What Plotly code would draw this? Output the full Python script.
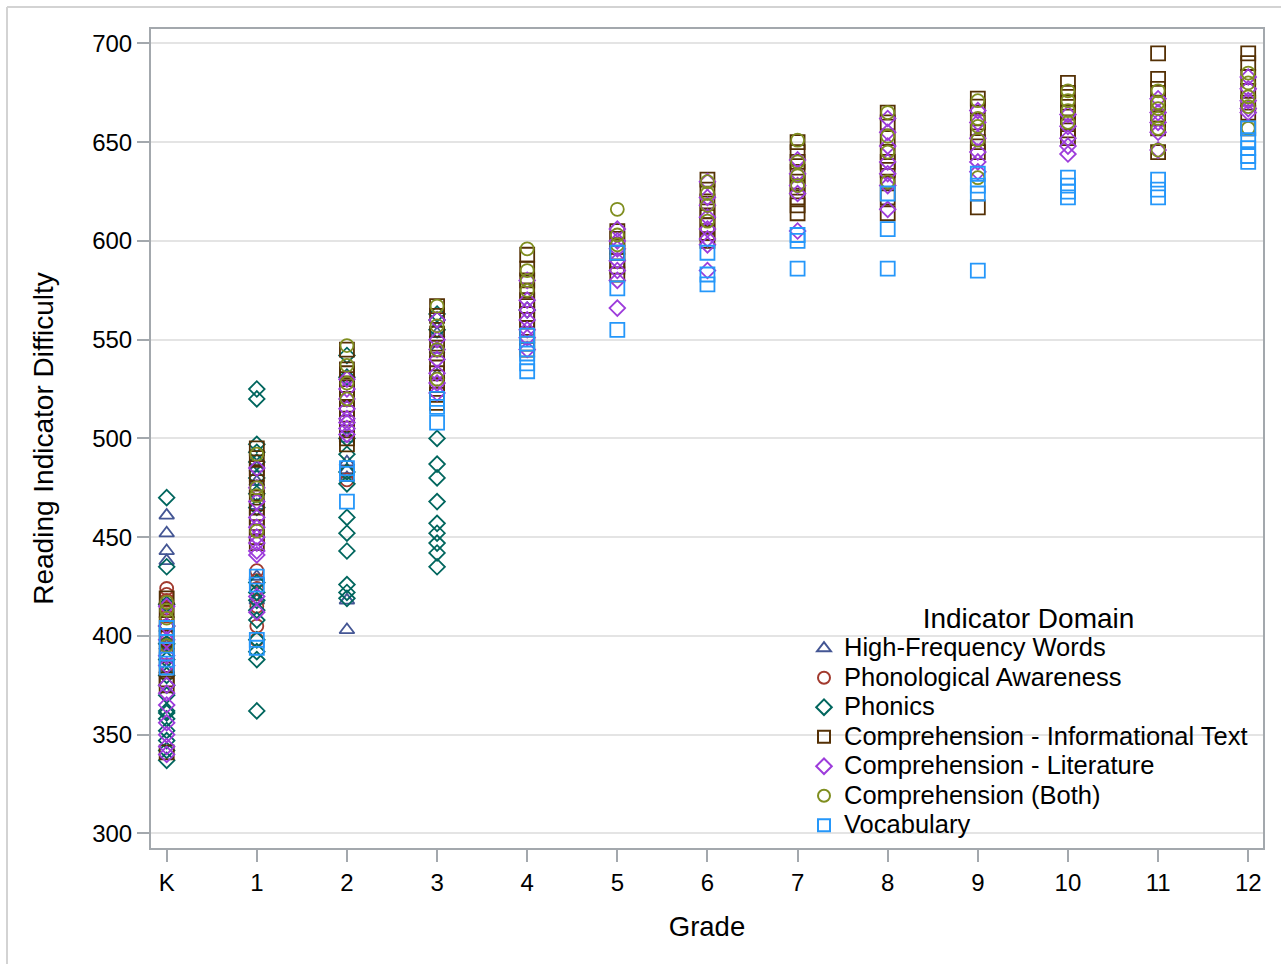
import plotly.graph_objects as go

# ---------------- data (values per grade: index 0 = K, 1..12 = grades) ----------------
grade_labels = ["K", "1", "2", "3", "4", "5", "6", "7", "8", "9", "10", "11", "12"]

domain_names = [
    "High-Frequency Words",
    "Phonological Awareness",
    "Phonics",
    "Comprehension - Informational Text",
    "Comprehension - Literature",
    "Comprehension (Both)",
    "Vocabulary",
]

high_frequency_words = [
    [461, 452, 443, 438, 395, 383],
    [485, 478, 466, 430, 418],
    [500, 488, 484, 480, 418, 403],
    [553, 545, 532],
    [], [], [], [], [], [], [], [], [],
]

phonological_awareness = [
    [424, 421, 418, 414, 410, 405, 400, 396, 391, 385],
    [433, 428, 424, 415, 405, 398],
    [483, 479],
    [], [], [], [], [], [], [], [], [], [],
]

phonics = [
    [470, 435, 416, 405, 396, 388, 380, 375, 370, 362, 361, 358, 352, 347, 342, 337],
    [525, 520, 497, 493, 488, 480, 472, 465, 427, 422, 418, 413, 408, 398, 392, 388, 362],
    [542, 531, 500, 492, 483, 477, 460, 452, 443, 426, 422, 419],
    [563, 560, 555, 500, 487, 480, 468, 457, 452, 447, 442, 435],
    [565],
    [], [], [], [], [], [], [], [],
]

comp_informational = [
    [419, 413, 406, 399, 391, 383, 378, 375, 341],
    [495, 490, 485, 482, 475, 470, 465, 460, 455, 450, 447],
    [545, 535, 533, 530, 527, 523, 520, 515, 510, 505, 500, 497],
    [567, 562, 553, 548, 543, 538, 533, 527, 522, 518],
    [593, 586, 580, 575, 570, 567, 563, 560, 556, 552, 548, 545],
    [605, 601, 597, 594, 590, 587, 583],
    [631, 626, 620, 615, 612, 608, 604, 600],
    [650, 645, 640, 635, 630, 627, 622, 618, 614],
    [665, 660, 652, 645, 640, 636, 630, 622, 614],
    [672, 668, 660, 655, 650, 645, 617],
    [680, 675, 670, 665, 660, 656, 652],
    [695, 682, 677, 670, 662, 657, 645],
    [695, 690, 683, 676, 670, 665, 657],
]

comp_literature = [
    [415, 405, 398, 390, 385, 375, 371, 365, 356, 350, 344, 340],
    [485, 475, 468, 460, 455, 450, 447, 443, 441, 420, 412],
    [530, 525, 520, 515, 510, 508, 505, 502],
    [560, 550, 545, 540, 533, 528, 523],
    [580, 570, 565, 560, 555, 551, 545],
    [606, 600, 596, 590, 585, 580, 566],
    [630, 622, 618, 612, 606, 601, 598, 585],
    [641, 634, 628, 624, 605],
    [662, 655, 648, 640, 634, 628, 616],
    [666, 660, 652, 645, 640, 635],
    [664, 658, 652, 648, 644],
    [672, 665, 660, 655, 646],
    [683, 677, 671, 667, 665],
]

comp_both = [
    [417, 413, 409, 395],
    [492, 475, 471, 453],
    [547, 537, 528, 520],
    [567, 557, 545, 530],
    [596, 585, 580, 575],
    [616, 603, 598],
    [630, 624, 618, 610],
    [651, 640, 633, 628],
    [665, 653, 645, 630],
    [671, 662, 658, 651, 632],
    [676, 671, 666, 660],
    [676, 670, 667, 662, 657, 646],
    [685, 680, 673, 668, 657],
]

vocabulary = [
    [404, 400, 393, 388, 384],
    [430, 426, 398, 394],
    [485, 482, 468],
    [520, 516, 508],
    [552, 548, 543, 538, 534],
    [594, 576, 555],
    [594, 583, 578],
    [603, 600, 586],
    [624, 606, 586],
    [634, 628, 624, 585],
    [632, 628, 625, 622],
    [631, 626, 622],
    [657, 651, 647, 643, 640],
]

y_ticks = [300, 350, 400, 450, 500, 550, 600, 650, 700]

# ---------------- styling ----------------
series = [high_frequency_words, phonological_awareness, phonics, comp_informational,
          comp_literature, comp_both, vocabulary]
symbols = ["triangle-up-open", "circle-open", "diamond-open", "square-open",
           "diamond-open", "circle-open", "square-open"]
sizes = [13, 13, 12, 14, 12, 13, 14]
colors = ["#445694", "#A23A2E", "#01665E", "#543005", "#9D3CDB", "#7F8E1F", "#2597FA"]

FONT = "Liberation Sans, Arial, sans-serif"
AXIS = "#A3A8AD"

fig = go.Figure()
for name, data, sym, sz, col in zip(domain_names, series, symbols, sizes, colors):
    xs, ys = [], []
    for g, vals in enumerate(data):
        for v in vals:
            xs.append(g)
            ys.append(v)
    fig.add_trace(go.Scatter(
        x=xs, y=ys, mode="markers",
        name='<span style="font-size:25.5px">' + name + '</span>',
        marker=dict(symbol=sym, size=sz, color=col, line=dict(width=1.8, color=col)),
    ))

L, R, T, B = 151, 18, 29, 116
W, H = 1281, 964
pw, ph = W - L - R, H - T - B

fig.update_layout(
    width=W, height=H,
    margin=dict(l=L, r=R, t=T, b=B, pad=0),
    paper_bgcolor="white", plot_bgcolor="white",
    font=dict(family=FONT, color="#000000", size=24),
    showlegend=True,
    legend=dict(
        title=dict(text="Indicator Domain", side="top center", font=dict(size=28, family=FONT)),
        font=dict(size=20.4, family=FONT, color="#000000"),
        bgcolor="rgba(0,0,0,0)",
        x=(804 - L) / pw, xanchor="left",
        y=1 - (592 - T) / ph, yanchor="top",
        itemsizing="constant",
    ),
    xaxis=dict(
        range=[-0.174, 12.164],
        tickmode="array", tickvals=list(range(13)), ticktext=grade_labels,
        showgrid=False, zeroline=False,
        showline=True, linecolor=AXIS, linewidth=2, mirror=True,
        ticks="outside", ticklen=12, tickwidth=2, tickcolor=AXIS,
        tickfont=dict(size=24, family=FONT),
        title=dict(text="Grade", font=dict(size=27.5, family=FONT), standoff=22),
        automargin=False,
    ),
    yaxis=dict(
        range=[292.6, 707.3],
        tickmode="array", tickvals=y_ticks,
        showgrid=True, gridcolor="#E4E4E4", gridwidth=1.5,
        zeroline=False,
        showline=True, linecolor=AXIS, linewidth=2, mirror=True,
        ticks="outside", ticklen=12, tickwidth=2, tickcolor=AXIS,
        tickfont=dict(size=24, family=FONT),
        title=dict(text="Reading Indicator Difficulty", font=dict(size=28, family=FONT), standoff=30),
        automargin=False,
    ),
    shapes=[
        dict(type="line", xref="paper", yref="paper",
             x0=(7 - L) / pw, x1=(1300 - L) / pw, y0=1 + (T - 7) / ph, y1=1 + (T - 7) / ph,
             line=dict(color="#D3D3D3", width=2)),
        dict(type="line", xref="paper", yref="paper",
             x0=(7 - L) / pw, x1=(7 - L) / pw, y0=1 + (T - 7) / ph, y1=-(H + 20 - T - ph) / ph,
             line=dict(color="#D3D3D3", width=2)),
    ],
)

fig.write_html("out.html")
